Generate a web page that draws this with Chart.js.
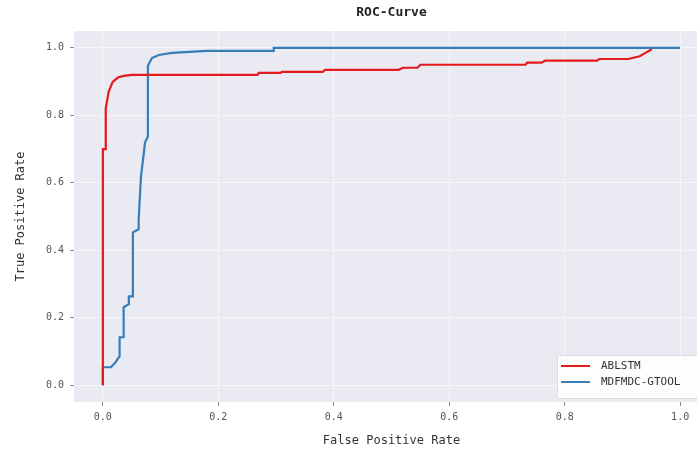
<!DOCTYPE html>
<html>
<head>
<meta charset="utf-8">
<script src="https://cdn.jsdelivr.net/npm/chart.js@4"></script>
<style>
  html, body { margin: 0; padding: 0; background: #fff; overflow: hidden; }
  #wrap { width: 697px; height: 452px; overflow: hidden; }
</style>
</head>
<body>
<div id="wrap"><canvas id="roc" width="720" height="452"></canvas></div>
<script>
// values
let seriesNames = ["ABLSTM", "MDFMDC-GTOOL"];
let seriesColors = ["#e41a1c", "#377eb8"];

let ablstmFpr = [0, 0, 0.005, 0.005, 0.010, 0.017, 0.026, 0.036, 0.05, 0.268, 0.27, 0.308, 0.31, 0.381, 0.385, 0.512, 0.52, 0.545, 0.55, 0.732, 0.735, 0.76, 0.766, 0.856, 0.86, 0.91, 0.93, 0.94, 0.951];
let ablstmTpr = [0, 0.70, 0.70, 0.82, 0.87, 0.899, 0.912, 0.917, 0.92, 0.92, 0.926, 0.926, 0.929, 0.929, 0.935, 0.935, 0.941, 0.941, 0.950, 0.950, 0.956, 0.956, 0.962, 0.962, 0.967, 0.967, 0.975, 0.985, 0.996];

let mdfmdcFpr = [0, 0, 0.014, 0.022, 0.029, 0.029, 0.036, 0.036, 0.045, 0.045, 0.052, 0.052, 0.062, 0.062, 0.066, 0.071, 0.073, 0.078, 0.078, 0.085, 0.097, 0.12, 0.15, 0.18, 0.296, 0.296, 1.0];
let mdfmdcTpr = [0, 0.053, 0.053, 0.068, 0.086, 0.142, 0.142, 0.231, 0.240, 0.263, 0.263, 0.453, 0.462, 0.49, 0.618, 0.689, 0.719, 0.737, 0.947, 0.970, 0.979, 0.985, 0.988, 0.991, 0.991, 1.0, 1.0];

let xTicks = [0, 0.2, 0.4, 0.6, 0.8, 1.0];
let yTicks = [0, 0.2, 0.4, 0.6, 0.8, 1.0];

let mono = "'DejaVu Sans Mono', monospace";

let toPoints = (xs, ys) => xs.map((x, i) => ({ x: x, y: ys[i] }));

// grey plot background like seaborn darkgrid
let bgPlugin = {
  id: "bg",
  beforeDraw(chart) {
    let a = chart.chartArea;
    let ctx = chart.ctx;
    ctx.save();
    ctx.fillStyle = "#e9eaf2";
    ctx.fillRect(a.left, a.top, a.right - a.left, a.bottom - a.top);
    ctx.restore();
  },
  afterDraw(chart) {
    let a = chart.chartArea;
    let ctx = chart.ctx;
    ctx.save();
    // title
    ctx.fillStyle = "#222";
    ctx.font = "bold 13px " + mono;
    ctx.textAlign = "center";
    ctx.textBaseline = "middle";
    ctx.fillText("ROC-Curve", (a.left + a.right) / 2, 13);

    // legend, lower right inside the plot
    let bx = 557, by = 355, bw = 170, bh = 43;
    ctx.fillStyle = "rgba(255,255,255,0.9)";
    ctx.fillRect(bx, by, bw, bh);
    ctx.strokeStyle = "#dddddd";
    ctx.lineWidth = 1;
    ctx.strokeRect(bx + 0.5, by + 0.5, bw, bh);
    ctx.font = "11px " + mono;
    ctx.textAlign = "left";
    chart.data.datasets.forEach((ds, i) => {
      let ly = 366 + i * 16;
      ctx.strokeStyle = ds.borderColor;
      ctx.lineWidth = 2;
      ctx.beginPath();
      ctx.moveTo(561, ly);
      ctx.lineTo(590, ly);
      ctx.stroke();
      ctx.fillStyle = "#333";
      ctx.fillText(ds.label, 601, ly);
    });
    ctx.restore();
  }
};

let config = {
  type: "line",
  data: {
    datasets: [
      {
        label: seriesNames[0],
        data: toPoints(ablstmFpr, ablstmTpr),
        borderColor: seriesColors[0],
        borderWidth: 2.2,
        pointRadius: 0,
        tension: 0,
        fill: false
      },
      {
        label: seriesNames[1],
        data: toPoints(mdfmdcFpr, mdfmdcTpr),
        borderColor: seriesColors[1],
        borderWidth: 2.2,
        pointRadius: 0,
        tension: 0,
        fill: false
      }
    ]
  },
  options: {
    responsive: false,
    animation: false,
    layout: { padding: { top: 31, right: 11, left: 0, bottom: 0 } },
    plugins: {
      legend: { display: false },
      title: { display: false },
      tooltip: { enabled: false }
    },
    scales: {
      x: {
        type: "linear",
        min: -0.05,
        max: 1.05,
        afterBuildTicks: (s) => { s.ticks = xTicks.map((v) => ({ value: v })); },
        afterFit: (s) => { s.height = 50; },
        ticks: {
          callback: (v) => Number(v).toFixed(1),
          font: { family: mono, size: 10 },
          color: "#555",
          padding: 5,
          maxRotation: 0
        },
        grid: { color: "#f7f7fb", lineWidth: 1, tickColor: "#888", tickLength: 4 },
        border: { display: false },
        title: {
          display: true,
          text: "False Positive Rate",
          font: { family: mono, size: 12 },
          color: "#333",
          padding: { top: 5, bottom: 4 }
        }
      },
      y: {
        type: "linear",
        min: -0.05,
        max: 1.05,
        afterBuildTicks: (s) => { s.ticks = yTicks.map((v) => ({ value: v })); },
        afterFit: (s) => { s.width = 74; },
        ticks: {
          callback: (v) => Number(v).toFixed(1),
          font: { family: mono, size: 10 },
          color: "#555",
          padding: 6
        },
        grid: { color: "#f7f7fb", lineWidth: 1, tickColor: "#888", tickLength: 4 },
        border: { display: false },
        title: {
          display: true,
          text: "True Positive Rate",
          font: { family: mono, size: 12 },
          color: "#333",
          padding: { top: 14, bottom: 0 }
        }
      }
    }
  },
  plugins: [bgPlugin]
};

let myChart = new Chart(document.getElementById("roc"), config);
</script>
</body>
</html>
